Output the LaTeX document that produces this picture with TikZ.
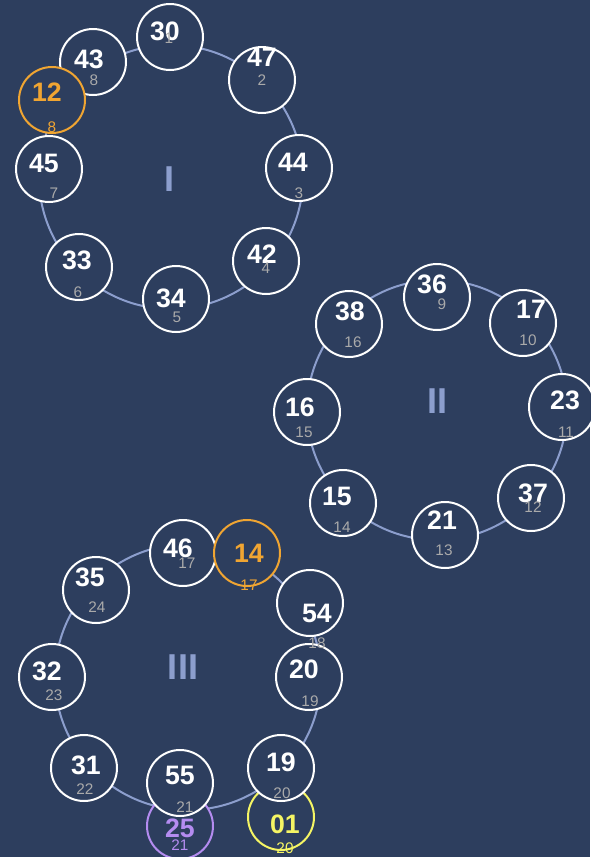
\documentclass[tikz,border=0pt]{standalone}
\usepackage{fontspec}
\setmainfont{Liberation Sans}
\definecolor{bg}{RGB}{45,62,94}
\definecolor{ringc}{RGB}{140,158,205}
\definecolor{sublbl}{RGB}{170,170,170}
\definecolor{org}{RGB}{240,165,50}
\definecolor{yel}{RGB}{245,245,100}
\definecolor{pur}{RGB}{180,140,240}
\begin{document}
\begin{tikzpicture}[x=0.75pt,y=-0.75pt,
  slot/.style={circle,draw=white,line width=1.5pt,fill=bg,minimum size=49.5pt,inner sep=0pt},
  big/.style={font=\fontsize{20}{20}\selectfont\bfseries,text=white,inner sep=0pt},
  sub/.style={font=\fontsize{11.5}{11.5}\selectfont,text=sublbl,inner sep=0pt},
  roman/.style={font=\fontsize{27}{27}\selectfont\bfseries,text=ringc,inner sep=0pt},
  ringline/.style={draw=ringc,line width=1.5pt}]
\fill[bg] (0,0) rectangle (590,857);
\useasboundingbox (0,0) rectangle (590,857);
% rings
\draw[ringline] (171,177) circle[radius=132];
\draw[ringline] (437,410) circle[radius=130];
\draw[ringline] (188,677) circle[radius=133];
\node[roman] (rI) at (169,179) {I};
\node[roman] (rII) at (437,401) {II};
\node[roman] (rIII) at (183,667) {III};
% ring I circles
\node[slot] (a1) at (170,37) {};
\node[slot] (a2) at (262,80) {};
\node[slot] (a3) at (299,168) {};
\node[slot] (a4) at (266,261) {};
\node[slot] (a5) at (176,299) {};
\node[slot] (a6) at (79,267) {};
\node[slot] (a7) at (49,169) {};
\node[slot] (a8) at (93,62) {};
\node[slot,draw=org] (a9) at (52,100) {};
% ring II circles
\node[slot] (b1) at (437,297) {};
\node[slot] (b2) at (523,323) {};
\node[slot] (b3) at (562,407) {};
\node[slot] (b4) at (531,498) {};
\node[slot] (b5) at (445,535) {};
\node[slot] (b6) at (343,503) {};
\node[slot] (b7) at (307,412) {};
\node[slot] (b8) at (349,324) {};
% ring III circles
\node[slot] (c1) at (183,553) {};
\node[slot,draw=org] (c2) at (247,553) {};
\node[slot] (c3) at (310,603) {};
\node[slot] (c4) at (309,677) {};
\node[slot,draw=yel] (c6) at (281,817) {};
\node[slot] (c5) at (281,768) {};
\node[slot,draw=pur] (c8) at (180,826) {};
\node[slot] (c7) at (180,783) {};
\node[slot] (c9) at (84,768) {};
\node[slot] (c10) at (52,677) {};
\node[slot] (c11) at (96,590) {};
% ring I labels
\node[big] (a1t) at (165,31) {30};  \node[sub] (a1s) at (169,38) {1};
\node[big] (a2t) at (262,57) {47};  \node[sub] (a2s) at (262,80) {2};
\node[big] (a3t) at (293,162) {44}; \node[sub] (a3s) at (299,193) {3};
\node[big] (a4t) at (262,254) {42}; \node[sub] (a4s) at (266,268) {4};
\node[big] (a5t) at (171,298) {34}; \node[sub] (a5s) at (177,317) {5};
\node[big] (a6t) at (77,260) {33};  \node[sub] (a6s) at (78,292) {6};
\node[big] (a7t) at (44,163) {45};  \node[sub] (a7s) at (54,193) {7};
\node[big] (a8t) at (89,59) {43};   \node[sub] (a8s) at (94,80) {8};
\node[big,text=org] (a9t) at (47,92) {12}; \node[sub,text=org] (a9s) at (52,127) {8};
% ring II labels
\node[big] (b1t) at (432,284) {36}; \node[sub] (b1s) at (442,304) {9};
\node[big] (b2t) at (531,309) {17}; \node[sub] (b2s) at (528,340) {10};
\node[big] (b3t) at (565,400) {23}; \node[sub] (b3s) at (566,432) {11};
\node[big] (b4t) at (533,493) {37}; \node[sub] (b4s) at (533,507) {12};
\node[big] (b5t) at (442,520) {21}; \node[sub] (b5s) at (444,550) {13};
\node[big] (b6t) at (337,496) {15}; \node[sub] (b6s) at (342,527) {14};
\node[big] (b7t) at (300,407) {16}; \node[sub] (b7s) at (304,432) {15};
\node[big] (b8t) at (350,311) {38}; \node[sub] (b8s) at (353,342) {16};
% ring III labels
\node[big] (c1t) at (178,548) {46}; \node[sub] (c1s) at (187,563) {17};
\node[big,text=org] (c2t) at (249,553) {14}; \node[sub,text=org] (c2s) at (249,585) {17};
\node[big] (c3t) at (317,613) {54}; \node[sub] (c3s) at (317,643) {18};
\node[big] (c4t) at (304,669) {20}; \node[sub] (c4s) at (310,701) {19};
\node[big] (c5t) at (281,762) {19}; \node[sub] (c5s) at (282,793) {20};
\node[big,text=yel] (c6t) at (285,824) {01}; \node[sub,text=yel] (c6s) at (285,848) {20};
\node[big] (c7t) at (180,775) {55}; \node[sub] (c7s) at (185,807) {21};
\node[big,text=pur] (c8t) at (180,828) {25}; \node[sub,text=pur] (c8s) at (180,845) {21};
\node[big] (c9t) at (86,765) {31};  \node[sub] (c9s) at (85,789) {22};
\node[big] (c10t) at (47,671) {32}; \node[sub] (c10s) at (54,695) {23};
\node[big] (c11t) at (90,577) {35}; \node[sub] (c11s) at (97,607) {24};
\end{tikzpicture}
\end{document}
